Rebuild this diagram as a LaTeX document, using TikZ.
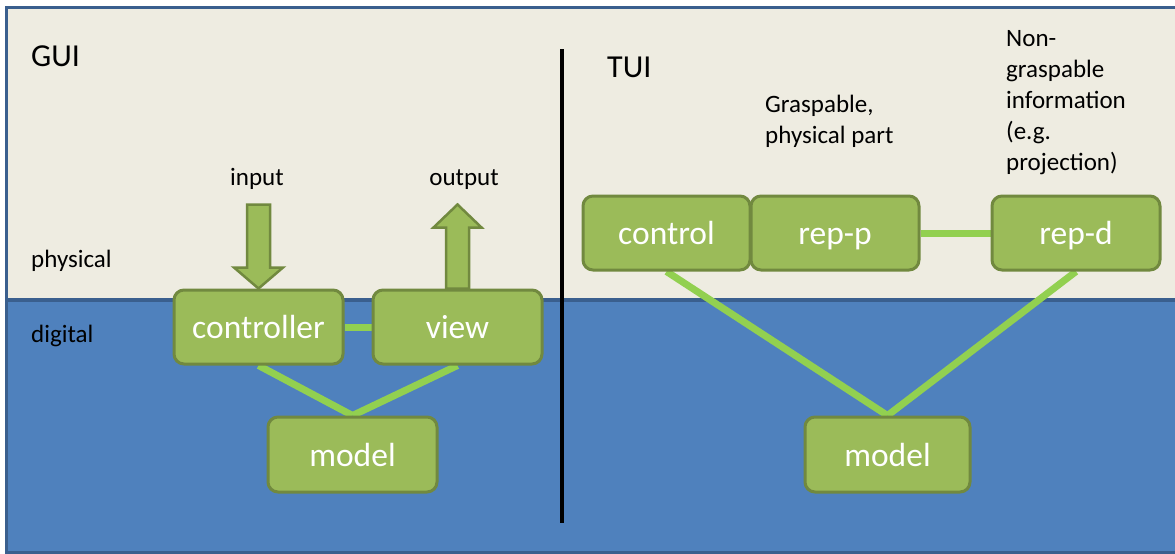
\documentclass[tikz,border=0pt]{standalone}
\usepackage{fontspec}
\setmainfont{Carlito}
\definecolor{paper}{HTML}{EEECE1}
\definecolor{digital}{HTML}{4F81BD}
\definecolor{frame}{HTML}{3A5F8E}
\definecolor{boxfill}{HTML}{9BBB59}
\definecolor{boxedge}{HTML}{71893F}
\definecolor{linkgreen}{HTML}{92D050}
\pgfdeclarelayer{back}
\pgfdeclarelayer{bg}
\pgfsetlayers{back,bg,main}
\begin{document}
\begin{tikzpicture}[x=1pt,y=-1pt,
  box/.style={draw=boxedge, fill=boxfill, line width=3pt, rounded corners=10pt,
    minimum width=168pt, minimum height=74pt, inner sep=0pt,
    text=white, font=\fontsize{33.5}{40}\selectfont, text height=23pt, text depth=0pt},
  link/.style={draw=linkgreen, line width=7pt},
  label/.style={font=\fontsize{25}{31}\selectfont, text=black, inner sep=0pt, anchor=base west},
  biglabel/.style={font=\fontsize{32}{38}\selectfont, text=black, inner sep=0pt, anchor=base west},
  bigarrow/.style={draw=boxedge, fill=boxfill, line width=2.5pt, line join=miter}
]
\useasboundingbox (0,0) rectangle (1175,554);

% background: physical layer above, digital layer below
\begin{pgfonlayer}{back}
  \fill[paper] (6,7) rectangle (1185,300);
  \fill[digital] (6,300) rectangle (1185,552);
  \draw[frame, line width=4pt] (6,300) -- (1185,300);
  \draw[frame, line width=3pt] (1185,7) -- (6,7) -- (6,552) -- (1185,552);
\end{pgfonlayer}

% separator between the two halves
\draw[black, line width=4.5pt] (562,49) -- (562,523);

% headings and layer names (multi-line labels sit on their last baseline)
\node[biglabel] (gui) at (31,66) {GUI};
\node[biglabel] (tui) at (607,77) {TUI};
\node[label] (phys) at (31,267) {physical};
\node[label] (dig) at (31,342) {digital};
\node[label, anchor=base] (in) at (257,185) {input};
\node[label, anchor=base] (out) at (464,185) {output};
\node[label, align=left] (grasp) at (765,143) {Graspable,\\physical part};
\node[label, align=left] (nongrasp) at (1006,170) {Non-\\graspable\\information\\(e.g.\\projection)};

% GUI: model-view-controller
\node[box, minimum width=169pt] (ctrl) at (258.5,327) {controller};
\node[box, minimum width=169pt] (view) at (457.5,327) {view};
\node[box, minimum width=169pt, minimum height=75pt] (gmodel) at (352.5,454.5) {model};

% TUI: control, physical and digital representations
\node[box, minimum width=167pt] (control) at (666.5,233) {control};
\node[box] (repp) at (835,233) {rep-p};
\node[box] (repd) at (1076,233) {rep-d};
\node[box, minimum width=165pt, minimum height=75pt] (tmodel) at (887.5,454.5) {model};

\begin{pgfonlayer}{bg}
  \draw[link] (ctrl.east) -- (view.west);
  \draw[link] (ctrl.south) -- (gmodel.north);
  \draw[link] (view.south) -- (gmodel.north);
  \draw[link] (repp.east) -- (repd.west);
  \draw[link] (control.south) -- (tmodel.north);
  \draw[link] (repd.south) -- (tmodel.north);
\end{pgfonlayer}

% block arrows for input and output
\draw[bigarrow, shift={(ctrl.north)}]
  (-11.5,-84) -- (11.5,-84) -- (11.5,-21) -- (24.5,-21) -- (0,0)
  -- (-24.5,-21) -- (-11.5,-21) -- cycle;
\draw[bigarrow, shift={(view.north)}]
  (-11.5,0) -- (11.5,0) -- (11.5,-61) -- (24,-61) -- (0,-84)
  -- (-24,-61) -- (-11.5,-61) -- cycle;
\end{tikzpicture}
\end{document}
